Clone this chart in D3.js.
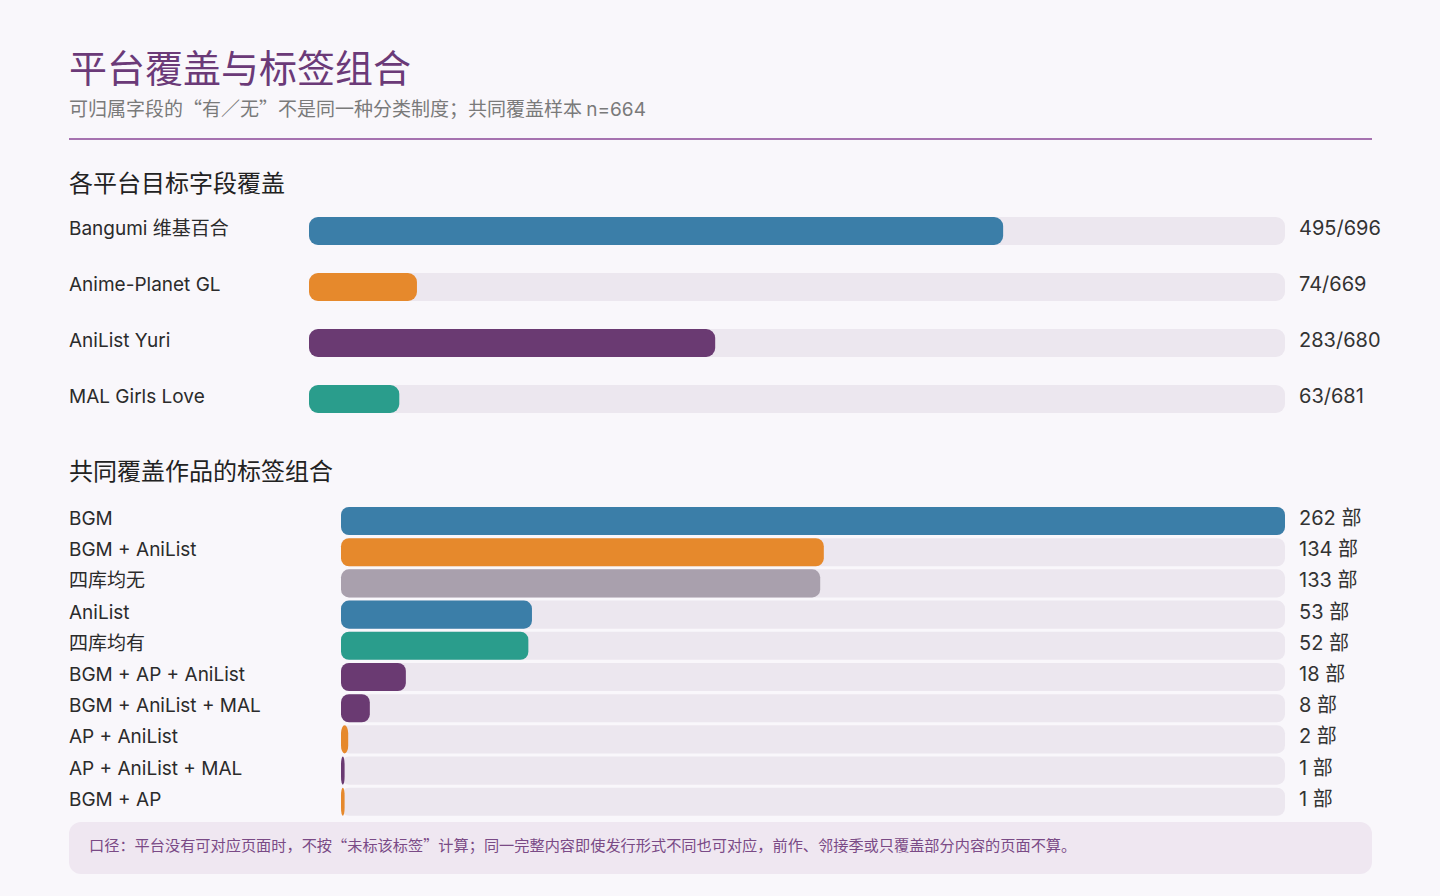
<!DOCTYPE html>
<html>
<head>
<meta charset="utf-8">
<script src="https://cdn.jsdelivr.net/npm/d3@7"></script>
<style>
  html, body { margin: 0; padding: 0; background: #f9f7fb; }
  svg { display: block; font-family: Inter, "Noto Sans CJK SC", sans-serif; }
  .cjk { font-family: "Noto Sans CJK SC", Inter, sans-serif; }
</style>
</head>
<body>
<div id="chart"></div>
<script>
// platform coverage (matched / total)
const platforms = ['Bangumi 维基百合', 'Anime-Planet GL', 'AniList Yuri', 'MAL Girls Love'];
const platformHit = [495, 74, 283, 63];
const platformTotal = [696, 669, 680, 681];
const platformColors = ['#3b7ea8', '#e6892c', '#6a3a72', '#2a9d8c'];

// tag combinations among commonly covered works
const combos = ['BGM', 'BGM + AniList', '四库均无', 'AniList', '四库均有',
  'BGM + AP + AniList', 'BGM + AniList + MAL', 'AP + AniList', 'AP + AniList + MAL', 'BGM + AP'];
const comboCounts = [262, 134, 133, 53, 52, 18, 8, 2, 1, 1];
const comboColors = ['#3b7ea8', '#e6892c', '#a9a0ad', '#3b7ea8', '#2a9d8c',
  '#6a3a72', '#6a3a72', '#e6892c', '#6a3a72', '#e6892c'];

const W = 1440, H = 896;
const trackColor = '#ece7ef';

const svg = d3.select('#chart').append('svg')
    .attr('width', W)
    .attr('height', H);

svg.append('rect').attr('width', W).attr('height', H).attr('fill', '#f9f7fb');

// header
svg.append('text')
    .attr('x', 69).attr('y', 82)
    .attr('font-size', 38)
    .attr('fill', '#6b3a78')
    .text('平台覆盖与标签组合');

const sub = svg.append('text')
    .attr('x', 69).attr('y', 116)
    .attr('font-size', 19)
    .attr('fill', '#7a7a7a');
sub.append('tspan').attr('class', 'cjk').text('可归属字段的“有／无”不是同一种分类制度；共同覆盖样本 ');
sub.append('tspan').text('n=664');

svg.append('line')
    .attr('x1', 69).attr('x2', 1372)
    .attr('y1', 139).attr('y2', 139)
    .attr('stroke', '#a672b0')
    .attr('stroke-width', 2);

// ---- section 1: platform coverage
svg.append('text')
    .attr('x', 69).attr('y', 192)
    .attr('font-size', 24)
    .attr('fill', '#222')
    .text('各平台目标字段覆盖');

const pData = platforms.map((name, i) => ({
  name, hit: platformHit[i], total: platformTotal[i], color: platformColors[i]
}));

const px = d3.scaleLinear().domain([0, 1]).range([309, 1285]);
const py = d3.scaleBand().domain(platforms).range([203, 427]).paddingInner(0.5).paddingOuter(0.25);

const pRow = svg.append('g').selectAll('g')
    .data(pData)
  .join('g')
    .attr('transform', d => `translate(0,${py(d.name)})`);

pRow.append('rect')
    .attr('x', px(0))
    .attr('width', px(1) - px(0))
    .attr('height', py.bandwidth())
    .attr('rx', 9)
    .attr('fill', trackColor);

pRow.append('rect')
    .attr('x', px(0))
    .attr('width', d => px(d.hit / d.total) - px(0))
    .attr('height', py.bandwidth())
    .attr('rx', 9)
    .attr('fill', d => d.color);

pRow.append('text')
    .attr('x', 69)
    .attr('y', py.bandwidth() / 2 + 4)
    .attr('font-size', 19)
    .attr('fill', '#2b2b2b')
    .text(d => d.name);

pRow.append('text')
    .attr('x', 1299)
    .attr('y', py.bandwidth() / 2 + 4)
    .attr('font-size', 20)
    .attr('fill', '#333')
    .text(d => `${d.hit}/${d.total}`);

// ---- section 2: tag combinations
svg.append('text')
    .attr('x', 69).attr('y', 480)
    .attr('font-size', 24)
    .attr('fill', '#222')
    .text('共同覆盖作品的标签组合');

const cData = combos.map((name, i) => ({ name, n: comboCounts[i], color: comboColors[i] }));

const cx = d3.scaleLinear().domain([0, d3.max(comboCounts)]).range([341, 1285]);
const cy = d3.scaleBand().domain(combos).range([505.4, 817.4]).paddingInner(0.1).paddingOuter(0.05);

const cRow = svg.append('g').selectAll('g')
    .data(cData)
  .join('g')
    .attr('transform', d => `translate(0,${cy(d.name)})`);

cRow.append('rect')
    .attr('x', cx(0))
    .attr('width', cx.range()[1] - cx(0))
    .attr('height', cy.bandwidth())
    .attr('rx', 8)
    .attr('fill', trackColor);

cRow.append('rect')
    .attr('x', cx(0))
    .attr('width', d => cx(d.n) - cx(0))
    .attr('height', cy.bandwidth())
    .attr('rx', 8)
    .attr('fill', d => d.color);

cRow.append('text')
    .attr('x', 69)
    .attr('y', cy.bandwidth() / 2 + 4)
    .attr('font-size', 19)
    .attr('fill', '#2b2b2b')
    .text(d => d.name);

cRow.append('text')
    .attr('x', 1299)
    .attr('y', cy.bandwidth() / 2 + 4)
    .attr('font-size', 20)
    .attr('fill', '#333')
    .text(d => `${d.n} 部`);

// footnote
svg.append('rect')
    .attr('x', 69).attr('y', 822)
    .attr('width', 1303).attr('height', 52)
    .attr('rx', 12)
    .attr('fill', '#efe7f1');

svg.append('text')
    .attr('class', 'cjk')
    .attr('x', 89).attr('y', 851)
    .attr('font-size', 15.2)
    .attr('fill', '#7a4a86')
    .text('口径：平台没有可对应页面时，不按“未标该标签”计算；同一完整内容即使发行形式不同也可对应，前作、邻接季或只覆盖部分内容的页面不算。');
</script>
</body>
</html>
